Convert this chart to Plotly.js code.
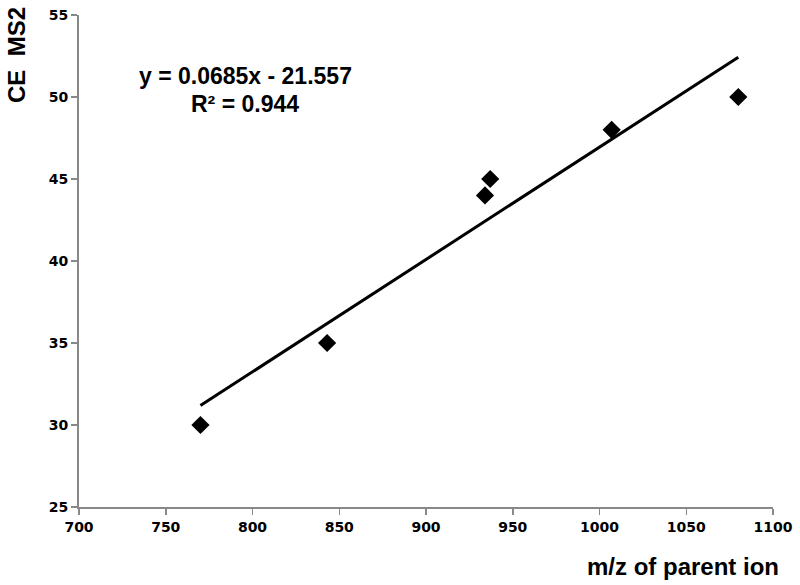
<!DOCTYPE html>
<html>
<head>
<meta charset="utf-8">
<script src="https://cdn.plot.ly/plotly-3.0.1.min.js"></script>
<style>html,body{margin:0;padding:0;background:#fff;}#chart{width:800px;height:585px;}</style>
</head>
<body>
<div id="chart"></div>
<script>
const mz = [770, 843, 934, 937, 1007, 1080];
const ceMs2 = [30, 35, 44, 45, 48, 50];
const slope = 0.0685;
const intercept = -21.557;
const r2 = 0.944;
const xTicks = [700, 750, 800, 850, 900, 950, 1000, 1050, 1100];
const yTicks = [25, 30, 35, 40, 45, 50, 55];

const xMin = Math.min(...mz), xMax = Math.max(...mz);
const trendX = [xMin, xMax];
const trendY = trendX.map(x => slope * x + intercept);

const font = "Liberation Sans";
const tickFont = {family: 'DejaVu Sans', size: 14, color: '#000000', weight: 'bold'};

const traces = [
  {x: trendX, y: trendY, mode: 'lines', line: {color: '#000', width: 3}, hoverinfo: 'skip'},
  {x: mz, y: ceMs2, mode: 'markers', marker: {symbol: 'diamond', size: 14, color: '#000'}}
];

const layout = {
  width: 800, height: 585,
  margin: {l: 79, r: 27, t: 15, b: 78},
  paper_bgcolor: '#fff', plot_bgcolor: '#fff',
  showlegend: false,
  font: {family: font, color: '#000'},
  xaxis: {
    range: [700, 1100], tickmode: 'array', tickvals: xTicks, ticktext: xTicks.map(v => '<b>' + v + '</b>'),
    showgrid: false, zeroline: false, showline: true, linecolor: '#888', linewidth: 2,
    ticks: 'outside', ticklen: 6, tickcolor: '#888', tickwidth: 1.5,
    tickfont: tickFont
  },
  yaxis: {
    range: [25, 55], tickmode: 'array', tickvals: yTicks, ticktext: yTicks.map(v => '<b>' + v + '</b>'),
    showgrid: false, zeroline: false, showline: true, linecolor: '#888', linewidth: 2,
    ticks: 'outside', ticklen: 6, tickcolor: '#888', tickwidth: 1.5,
    tickfont: tickFont
  },
  annotations: [
    {xref: 'paper', yref: 'paper', x: (245 - 79) / 694, y: 1 - (76 - 15) / 492,
     text: '<b>y = ' + slope + 'x - ' + Math.abs(intercept) + '</b>', showarrow: false,
     xanchor: 'center', yanchor: 'middle', font: {family: font, size: 23, color: '#000'}},
    {xref: 'paper', yref: 'paper', x: (245 - 79) / 694, y: 1 - (104 - 15) / 492,
     text: '<b>R² = ' + r2 + '</b>', showarrow: false,
     xanchor: 'center', yanchor: 'middle', font: {family: font, size: 23, color: '#000'}},
    {xref: 'paper', yref: 'paper', x: (16 - 79) / 694, y: 1 - (55 - 15) / 492,
     text: '<b>CE  MS2</b>', textangle: -90, showarrow: false,
     xanchor: 'center', yanchor: 'middle', font: {family: font, size: 24, color: '#000'}},
    {xref: 'paper', yref: 'paper', x: (781 - 79) / 694, y: -(566 - 507) / 492,
     text: '<b>m/z of parent ion</b>', showarrow: false,
     xanchor: 'right', yanchor: 'middle', font: {family: font, size: 24, color: '#000'}}
  ]
};

Plotly.newPlot('chart', traces, layout, {displayModeBar: false, staticPlot: true});
</script>
</body>
</html>
